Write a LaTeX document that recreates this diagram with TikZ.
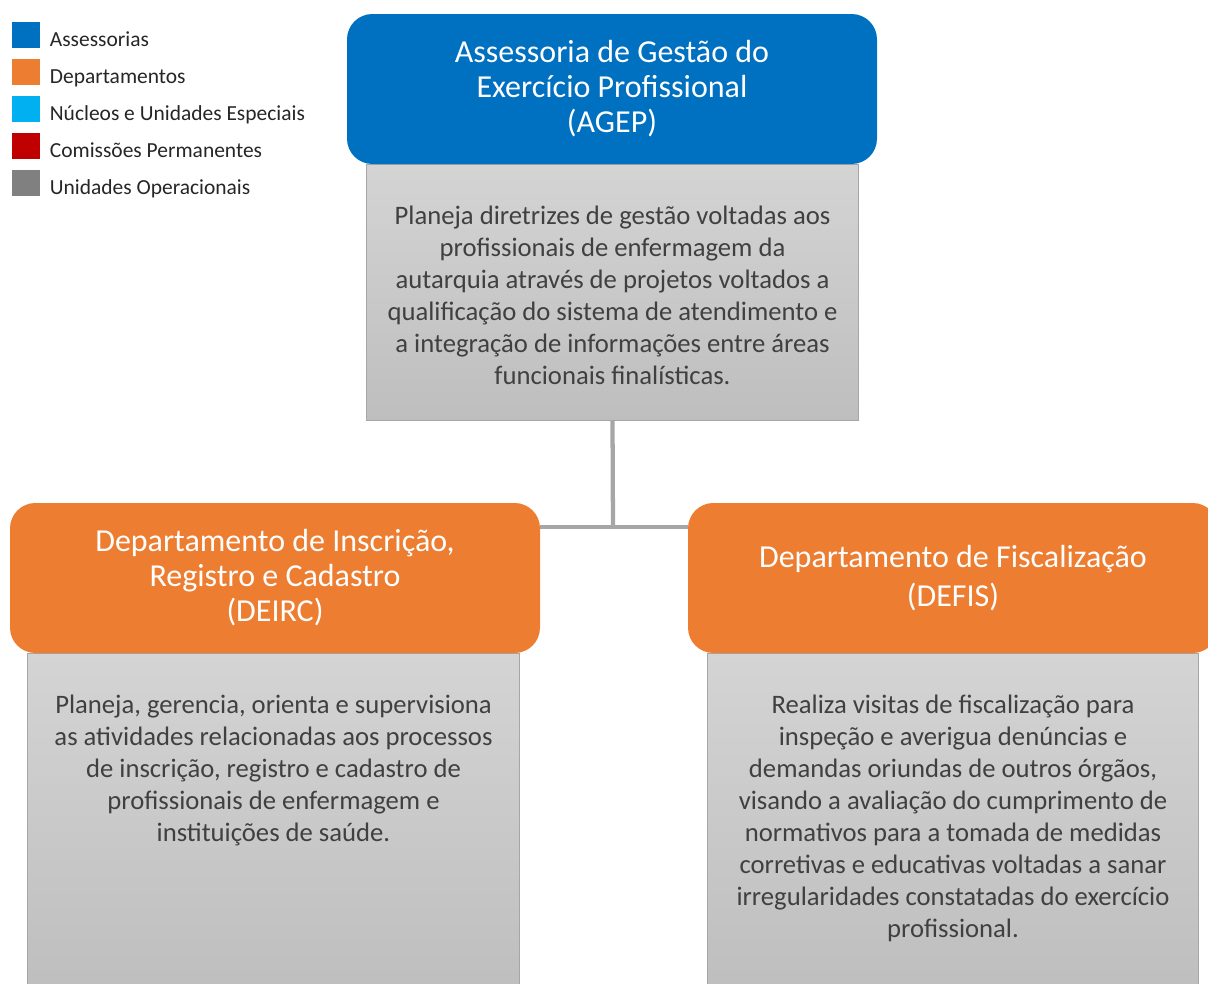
\documentclass[tikz,border=0pt]{standalone}
\usepackage{fontspec}
\setmainfont{Carlito}
\usepackage{xcolor}
\usepackage{tikz}
\usetikzlibrary{positioning}
\definecolor{assess}{HTML}{0070C0}
\definecolor{depto}{HTML}{ED7D31}
\definecolor{nucleo}{HTML}{00B0F0}
\definecolor{comiss}{HTML}{C00000}
\definecolor{operac}{HTML}{808080}
\definecolor{legtext}{HTML}{262626}
\definecolor{bodytext}{HTML}{404040}
\definecolor{frame}{HTML}{A6A6A6}
\definecolor{shadetop}{HTML}{D4D4D4}
\definecolor{shadebot}{HTML}{BEBEBE}
\tikzset{
  headbox/.style={rounded corners=19pt, minimum width=397.5pt, minimum height=112.5pt,
    text=white, align=center, font=\fontsize{24}{26.3}\selectfont},
  descbox/.style={draw=frame, line width=0.75pt, top color=shadetop, bottom color=shadebot,
    minimum width=368.5pt},
  desctext/.style={text=bodytext, align=center, font=\fontsize{20}{24}\selectfont},
  legbox/.style={minimum width=21pt, minimum height=20pt, inner sep=0pt},
  legname/.style={text=legtext, inner sep=0pt, text height=11.3pt, text depth=3.5pt,
    font=\fontsize{16.1}{19}\selectfont},
  link/.style={draw=frame, line width=3.2pt},
}

\begin{document}
\begin{tikzpicture}[x=0.75pt, y=-0.75pt]
\useasboundingbox (0,0) rectangle (1208,983);
\clip (0,0) rectangle (1208,983);

% legenda
\foreach \col/\name [count=\i] in {assess/Assessorias, depto/Departamentos,
    nucleo/Núcleos e Unidades Especiais, comiss/Comissões Permanentes,
    operac/Unidades Operacionais} {
  \node[legbox, fill=\col] (leg\i) at (26,-2+37*\i) {};
  \node[legname, right=7pt of leg\i, yshift=-4.5pt] (legtxt\i) {\name};
}

% AGEP
\node[descbox, minimum height=192pt] (agepbox) at (612.5,292) {};
\node[desctext, below=28pt of agepbox.north] (ageptxt)
  {Planeja diretrizes de gestão voltadas aos\\
   profissionais de enfermagem da\\
   autarquia através de projetos voltados a\\
   qualificação do sistema de atendimento e\\
   a integração de informações entre áreas\\
   funcionais finalísticas.};
\node[headbox, fill=assess] (agephead) at (612,89)
  {Assessoria de Gestão do\\ Exercício Profissional\\ (AGEP)};

% DEIRC
\node[descbox, minimum height=255pt] (deircbox) at (273.5,823) {};
\node[desctext, below=28pt of deircbox.north] (deirctxt)
  {Planeja, gerencia, orienta e supervisiona\\
   as atividades relacionadas aos processos\\
   de inscrição, registro e cadastro de\\
   profissionais de enfermagem e\\
   instituições de saúde.};
\node[headbox, fill=depto] (deirchead) at (275,578)
  {Departamento de Inscrição,\\ Registro e Cadastro\\ (DEIRC)};

% DEFIS
\node[descbox, minimum height=255pt] (defisbox) at (953,823) {};
\node[desctext, below=28pt of defisbox.north] (defistxt)
  {Realiza visitas de fiscalização para\\
   inspeção e averigua denúncias e\\
   demandas oriundas de outros órgãos,\\
   visando a avaliação do cumprimento de\\
   normativos para a tomada de medidas\\
   corretivas e educativas voltadas a sanar\\
   irregularidades constatadas do exercício\\
   profissional.};
\node[headbox, fill=depto] (defishead) at (953,578)
  {Departamento de Fiscalização\\[3pt] (DEFIS)};

% ligações
\coordinate (split) at (613,527);
\draw[link] (agepbox.south) -- (split);
\draw[link] (deirchead.east |- split) -- (defishead.west |- split);
\end{tikzpicture}
\end{document}
